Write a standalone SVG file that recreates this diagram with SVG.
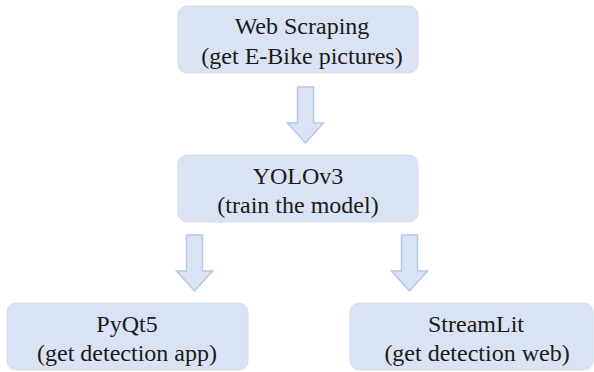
<svg xmlns="http://www.w3.org/2000/svg" width="594" height="372" viewBox="0 0 594 372">
<style>
.box{fill:#dae3f3;stroke:#d4ddee;stroke-width:1}
.t{font-size:24px;fill:#1a1a1a;text-anchor:middle}
.arr{fill:#dae3f3;stroke:#b4c7e7;stroke-width:1.5;stroke-linejoin:miter}
</style>
<rect width="594" height="372" fill="#ffffff"/>
<g id="connectors">
<polygon class="arr" points="297.5,87 313.5,87 313.5,123 323.5,123 305.5,143 287.5,123 297.5,123"/>
<polygon class="arr" points="186.5,235 202.5,235 202.5,271 212.5,271 194.5,291 176.5,271 186.5,271"/>
<polygon class="arr" points="401.5,235 417.5,235 417.5,271 427.5,271 409.5,291 391.5,271 401.5,271"/>
</g>
<g font-family="Liberation Serif, DejaVu Serif, serif">
<g id="webscraping">
<rect class="box" x="178" y="6" width="240" height="67" rx="9"/>
<text class="t" x="302" y="34">Web Scraping</text>
<text class="t" x="302" y="64">(get E-Bike pictures)</text>
</g>
<g id="yolov3">
<rect class="box" x="178" y="155" width="240" height="67" rx="9"/>
<text class="t" x="298" y="183.5">YOLOv3</text>
<text class="t" x="298" y="213">(train the model)</text>
</g>
<g id="pyqt5">
<rect class="box" x="7" y="303" width="241" height="67" rx="9"/>
<text class="t" x="127" y="331.5">PyQt5</text>
<text class="t" x="127" y="361">(get detection app)</text>
</g>
<g id="streamlit">
<rect class="box" x="350" y="303" width="243" height="67" rx="9"/>
<text class="t" x="476" y="331.5">StreamLit</text>
<text class="t" x="477" y="361">(get detection web)</text>
</g>
</g>
</svg>
